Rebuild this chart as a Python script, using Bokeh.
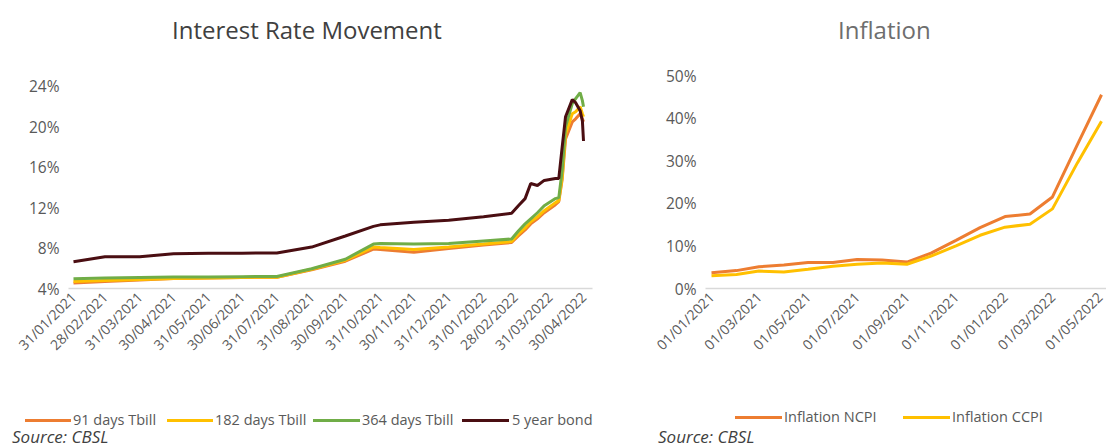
import math
import pandas as pd
from bokeh.plotting import figure
from bokeh.models import (FixedTicker, DatetimeTickFormatter, PrintfTickFormatter, Range1d, Div)
from bokeh.layouts import row, column
from bokeh.embed import file_html
from bokeh.resources import INLINE

# ---------------- data: interest rates (%) ----------------
rate_dates = ["2021-01-31", "2021-02-28", "2021-03-31", "2021-04-30", "2021-05-31", "2021-06-30",
              "2021-07-31", "2021-08-31", "2021-09-30", "2021-10-25", "2021-10-31", "2021-11-30",
              "2021-12-31", "2022-01-31", "2022-02-25", "2022-03-03", "2022-03-09", "2022-03-14",
              "2022-03-20", "2022-03-26", "2022-04-05", "2022-04-08", "2022-04-11", "2022-04-14",
              "2022-04-20", "2022-04-23", "2022-04-27", "2022-04-29", "2022-04-30"]
tbill_91 = [4.55, 4.70, 4.85, 5.00, 5.05, 5.10, 5.12, 5.85, 6.70, 7.90, 7.85, 7.60, 7.95, 8.30, 8.55,
            9.20, 9.80, 10.40, 10.90, 11.50, 12.30, 12.60, 14.80, 18.80, 20.50, 20.80, 21.30, 20.80, 20.50]
tbill_182 = [4.70, 4.80, 4.90, 5.00, 5.05, 5.10, 5.12, 5.90, 6.80, 8.10, 8.05, 7.85, 8.10, 8.40, 8.65,
             9.40, 10.00, 10.60, 11.10, 11.70, 12.50, 12.70, 15.00, 19.30, 21.30, 21.50, 22.00, 21.30, 21.00]
tbill_364 = [4.96, 5.05, 5.10, 5.15, 5.15, 5.17, 5.19, 5.95, 6.90, 8.40, 8.45, 8.40, 8.45, 8.70, 8.90,
             9.70, 10.40, 10.90, 11.50, 12.20, 12.90, 13.00, 15.70, 20.00, 22.30, 22.80, 23.40, 22.60, 22.00]
bond_5y = [6.65, 7.15, 7.15, 7.45, 7.50, 7.50, 7.52, 8.10, 9.20, 10.15, 10.30, 10.55, 10.75, 11.10, 11.45,
           12.20, 12.90, 14.40, 14.20, 14.70, 14.90, 14.90, 18.00, 21.00, 22.70, 22.40, 21.60, 20.60, 18.60]
rate_tick_dates = ["2021-01-31", "2021-02-28", "2021-03-31", "2021-04-30", "2021-05-31", "2021-06-30",
                   "2021-07-31", "2021-08-31", "2021-09-30", "2021-10-31", "2021-11-30", "2021-12-31",
                   "2022-01-31", "2022-02-28", "2022-03-31", "2022-04-30"]
rate_y_ticks = [4, 8, 12, 16, 20, 24]
rate_labels = ["91 days Tbill", "182 days Tbill", "364 days Tbill", "5 year bond"]
rate_colors = ["#ED7D31", "#FFC000", "#70AD47", "#4A0E12"]

# ---------------- data: inflation (%) ----------------
infl_dates = ["2021-01-01", "2021-02-01", "2021-03-01", "2021-04-01", "2021-05-01", "2021-06-01",
              "2021-07-01", "2021-08-01", "2021-09-01", "2021-10-01", "2021-11-01", "2021-12-01",
              "2022-01-01", "2022-02-01", "2022-03-01", "2022-04-01", "2022-05-01"]
ncpi = [3.7, 4.2, 5.1, 5.5, 6.1, 6.1, 6.8, 6.7, 6.2, 8.3, 11.3, 14.3, 16.9, 17.5, 21.5, 33.8, 45.5]
ccpi = [3.0, 3.3, 4.1, 3.9, 4.5, 5.2, 5.7, 6.0, 5.7, 7.6, 10.0, 12.5, 14.4, 15.1, 18.7, 29.5, 39.3]
infl_tick_dates = ["2021-01-01", "2021-03-01", "2021-05-01", "2021-07-01", "2021-09-01", "2021-11-01",
                   "2022-01-01", "2022-03-01", "2022-05-01"]
infl_y_ticks = [0, 10, 20, 30, 40, 50]
infl_labels = ["Inflation NCPI", "Inflation CCPI"]
infl_colors = ["#ED7D31", "#FFC000"]

titles = ["Interest Rate Movement", "Inflation"]
source_text = "Source: CBSL"

FONT = "Open Sans"
GRAY = "#595959"
W1, W2 = 628, 478
TITLE_H, LEG_H = 55, 74


def ms(d):
    return pd.Timestamp(d).value / 1e6


def dt_formatter():
    f = "%d/%m/%Y"
    return DatetimeTickFormatter(microseconds=f, milliseconds=f, seconds=f, minsec=f, minutes=f,
                                 hourmin=f, hours=f, days=f, months=f, years=f)


def style(p, xticks, yticks):
    p.outline_line_color = None
    p.xgrid.grid_line_color = None
    p.ygrid.grid_line_color = None
    xa = p.xaxis[0]
    xa.ticker = FixedTicker(ticks=[ms(d) for d in xticks])
    xa.formatter = dt_formatter()
    xa.major_label_orientation = math.pi / 4
    xa.major_tick_line_color = None
    xa.minor_tick_line_color = None
    xa.major_tick_out = 0
    xa.minor_tick_out = 0
    xa.axis_line_color = "#D9D9D9"
    xa.axis_line_width = 1.5
    xa.major_label_text_font = FONT
    xa.major_label_text_font_size = "14px"
    xa.major_label_text_color = GRAY
    xa.major_label_standoff = 6
    ya = p.yaxis[0]
    ya.ticker = FixedTicker(ticks=yticks)
    ya.formatter = PrintfTickFormatter(format="%d%%")
    ya.axis_line_color = None
    ya.major_tick_line_color = None
    ya.minor_tick_line_color = None
    ya.major_tick_out = 0
    ya.minor_tick_out = 0
    ya.major_label_text_font = FONT
    ya.major_label_text_font_size = "15.5px"
    ya.major_label_text_color = GRAY
    ya.major_label_standoff = 9


def title_div(text, width, left, color):
    html = (f'<div style="position:relative;width:{width}px;height:{TITLE_H}px;">'
            f'<div style="position:absolute;left:{left}px;top:14px;line-height:32px;'
            f"font-family:'{FONT}';font-size:24px;color:{color};white-space:nowrap;\">{text}</div></div>")
    return Div(text=html, width=width, height=TITLE_H, margin=0)


def legend_div(labels, colors, lines, text_x, y_c, src_x, src_y, width):
    parts = [f'<div style="position:relative;width:{width}px;height:{LEG_H}px;font-family:\'{FONT}\';">']
    for lab, col, (a, b), tx in zip(labels, colors, lines, text_x):
        parts.append(f'<div style="position:absolute;left:{a}px;top:{y_c - 1.5}px;width:{b - a}px;'
                     f'height:0;border-top:3px solid {col};"></div>')
        parts.append(f'<div style="position:absolute;left:{tx}px;top:{y_c - 11}px;line-height:22px;'
                     f'font-size:14.5px;color:{GRAY};white-space:nowrap;">{lab}</div>')
    parts.append(f'<div style="position:absolute;left:{src_x}px;top:{src_y - 12}px;line-height:24px;'
                 f'font-size:17px;font-style:italic;color:#404040;white-space:nowrap;">{source_text}</div>')
    parts.append('</div>')
    return Div(text="".join(parts), width=width, height=LEG_H, margin=0)


FRAME_H, TOP, BOTTOM = 221, 12, 85

# ---------------- left chart ----------------
x0 = pd.Timestamp("2021-01-31") - pd.Timedelta(days=4.45)
x1 = pd.Timestamp("2022-04-30") + pd.Timedelta(days=8)
p1 = figure(frame_width=524, frame_height=FRAME_H, x_axis_type="datetime", output_backend="svg",
            toolbar_location=None, x_range=Range1d(x0, x1), y_range=Range1d(4, 25.88),
            min_border_left=68, min_border_right=36, min_border_top=TOP, min_border_bottom=BOTTOM)
style(p1, rate_tick_dates, rate_y_ticks)
xd = [pd.Timestamp(d) for d in rate_dates]
for series, col in zip([tbill_91, tbill_182, tbill_364, bond_5y], rate_colors):
    p1.line(xd, series, line_color=col, line_width=3)

# ---------------- right chart ----------------
u0 = pd.Timestamp("2021-01-01") - pd.Timedelta(days=7.46)
u1 = pd.Timestamp("2022-05-01") + pd.Timedelta(days=6.2)
p2 = figure(frame_width=401, frame_height=FRAME_H, x_axis_type="datetime", output_backend="svg",
            toolbar_location=None, x_range=Range1d(u0, u1), y_range=Range1d(0, 51.9),
            min_border_left=77, min_border_right=0, min_border_top=TOP, min_border_bottom=BOTTOM)
style(p2, infl_tick_dates, infl_y_ticks)
xi = [pd.Timestamp(d) for d in infl_dates]
for series, col in zip([ncpi, ccpi], infl_colors):
    p2.line(xi, series, line_color=col, line_width=3)

# ---------------- titles, legends, sources ----------------
t1 = title_div(titles[0], W1, 172, "#404040")
t2 = title_div(titles[1], W2, 210, "#6E6E6E")
l1 = legend_div(rate_labels, rate_colors, [(25, 71), (167, 213), (313, 360), (462, 509)],
                [73, 215, 362, 512], 47, 12, 64, W1)
l2 = legend_div(infl_labels, infl_colors, [(107, 154), (275, 322)], [156, 324], 44, 30, 64, W2)

layout = column(row(t1, t2, spacing=0), row(p1, p2, spacing=0), row(l1, l2, spacing=0), spacing=0)
open("out.html", "w").write(file_html(layout, INLINE))
